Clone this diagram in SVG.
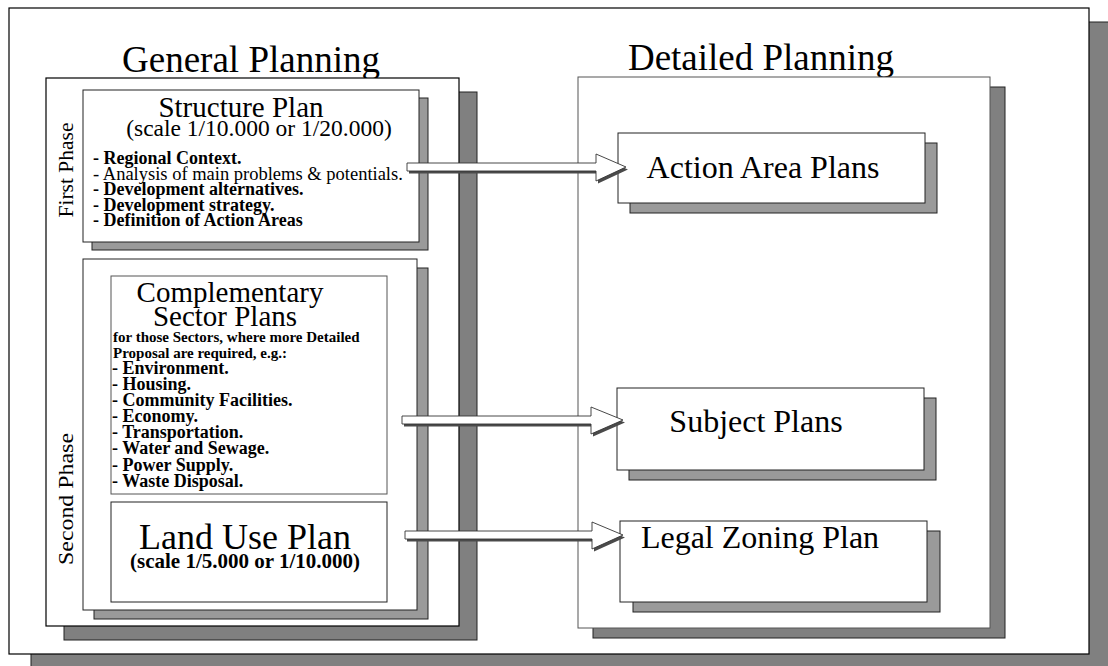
<svg xmlns="http://www.w3.org/2000/svg" width="1108" height="666" viewBox="0 0 1108 666">
  <style>
    .frame { fill: #ffffff; stroke: #000000; stroke-width: 1.2; }
    .panel { fill: #ffffff; stroke: #222222; stroke-width: 1; }
    .panel-soft { fill: #ffffff; stroke: #555555; stroke-width: 1; }
    .shade-dark { fill: #808080; stroke: #222222; stroke-width: 1; }
    .shade-light { fill: #9a9a9a; stroke: #222222; stroke-width: 1; }
    text { font-family: "Liberation Serif", "Times New Roman", serif; fill: #000000; }
    .title { font-size: 37px; text-anchor: middle; }
    .head { font-size: 29px; text-anchor: middle; }
    .sub { font-size: 23.5px; text-anchor: middle; }
    .item { font-size: 18px; font-weight: bold; }
    .item-r { font-size: 18.5px; }
    .note { font-size: 15px; font-weight: bold; }
    .phase { font-size: 21.5px; text-anchor: middle; }
    .plan { font-size: 32px; text-anchor: middle; }
    .arrow-shadow { fill: #4a4a4a; }
    .arrow-body { fill: #ffffff; stroke: #333333; stroke-width: 0.9; }
  </style>

  <!-- page frame with drop shadow -->
  <g id="page">
    <rect x="31" y="22" width="1090" height="660" fill="#808080" stroke="#222" stroke-width="1"/>
    <rect class="frame" x="9" y="8" width="1080" height="646"/>
  </g>

  <!-- column headings -->
  <g id="heading-general">
    <text class="title" x="251" y="72">General Planning</text>
  </g>
  <g id="heading-detailed">
    <text class="title" x="761" y="70">Detailed Planning</text>
  </g>

  <!-- General Planning column -->
  <g id="general-planning">
    <rect class="shade-dark" x="64" y="92" width="413" height="548"/>
    <rect class="frame" x="46" y="78" width="413" height="548"/>
    <text class="phase" transform="translate(73,170) rotate(-90)">First Phase</text>
    <text class="phase" transform="translate(73,499) rotate(-90)" textLength="132" lengthAdjust="spacingAndGlyphs">Second Phase</text>
  </g>

  <g id="structure-plan">
    <rect class="shade-light" x="92" y="98" width="336" height="152"/>
    <rect class="panel" x="83" y="90" width="336" height="152"/>
    <text class="head" x="241" y="117">Structure Plan</text>
    <text class="sub" x="259" y="136">(scale 1/10.000 or 1/20.000)</text>
    <text class="item" x="93" y="164">- Regional Context.</text>
    <text class="item-r" x="93" y="180">- Analysis of main problems &amp; potentials.</text>
    <text class="item" x="93" y="195">- Development alternatives.</text>
    <text class="item" x="93" y="211">- Development strategy.</text>
    <text class="item" x="93" y="226">- Definition of Action Areas</text>
  </g>

  <g id="second-phase">
    <rect class="shade-light" x="94" y="268" width="334" height="351"/>
    <rect class="panel" x="83" y="259" width="334" height="351"/>
  </g>

  <g id="sector-plans">
    <rect class="panel-soft" x="111" y="276" width="276" height="218"/>
    <text class="head" x="230" y="302">Complementary</text>
    <text class="head" x="225" y="326">Sector Plans</text>
    <text class="note" x="113" y="342">for those Sectors, where more Detailed</text>
    <text class="note" x="113" y="358">Proposal are required, e.g.:</text>
    <text class="item" x="112" y="374">- Environment.</text>
    <text class="item" x="112" y="390">- Housing.</text>
    <text class="item" x="112" y="406">- Community Facilities.</text>
    <text class="item" x="112" y="422">- Economy.</text>
    <text class="item" x="112" y="438">- Transportation.</text>
    <text class="item" x="112" y="454">- Water and Sewage.</text>
    <text class="item" x="112" y="471">- Power Supply.</text>
    <text class="item" x="112" y="487">- Waste Disposal.</text>
  </g>

  <g id="land-use-plan">
    <rect class="panel" x="111" y="502" width="276" height="100"/>
    <text x="245" y="549" font-size="36" text-anchor="middle">Land Use Plan</text>
    <text x="245" y="568" font-size="21" font-weight="bold" text-anchor="middle">(scale 1/5.000 or 1/10.000)</text>
  </g>

  <!-- Detailed Planning column -->
  <g id="detailed-planning">
    <rect class="shade-dark" x="593" y="87" width="412" height="551"/>
    <rect class="panel-soft" x="578" y="77" width="412" height="551"/>
  </g>

  <g id="action-area-plans">
    <rect class="shade-light" x="630" y="143" width="307" height="70"/>
    <rect class="panel" x="618" y="133" width="307" height="70"/>
    <text class="plan" x="763" y="178">Action Area Plans</text>
  </g>

  <g id="subject-plans">
    <rect class="shade-light" x="629" y="398" width="307" height="82"/>
    <rect class="panel" x="617" y="388" width="307" height="82"/>
    <text class="plan" x="756" y="432">Subject Plans</text>
  </g>

  <g id="legal-zoning-plan">
    <rect class="shade-light" x="633" y="531" width="307" height="81"/>
    <rect class="panel" x="620" y="521" width="307" height="81"/>
    <text class="plan" x="760" y="548">Legal Zoning Plan</text>
  </g>

  <!-- connectors: hollow block arrows with a small drop shadow -->
  <g id="connectors">
    <g transform="translate(407,167)">
      <polygon class="arrow-shadow" transform="translate(2,2.5)" points="0,-4 189,-4 189,-13 219,0 189,14 189,4 0,4"/>
      <polygon class="arrow-body" points="0,-4 189,-4 189,-13 219,0 189,14 189,4 0,4"/>
    </g>
    <g transform="translate(402,420)">
      <polygon class="arrow-shadow" transform="translate(2,2.5)" points="0,-4 189,-4 189,-13 221,0 189,14 189,4 0,4"/>
      <polygon class="arrow-body" points="0,-4 189,-4 189,-13 221,0 189,14 189,4 0,4"/>
    </g>
    <g transform="translate(405,535)">
      <polygon class="arrow-shadow" transform="translate(2,2.5)" points="0,-4 187,-4 187,-13 218,0 187,14 187,4 0,4"/>
      <polygon class="arrow-body" points="0,-4 187,-4 187,-13 218,0 187,14 187,4 0,4"/>
    </g>
  </g>
</svg>
